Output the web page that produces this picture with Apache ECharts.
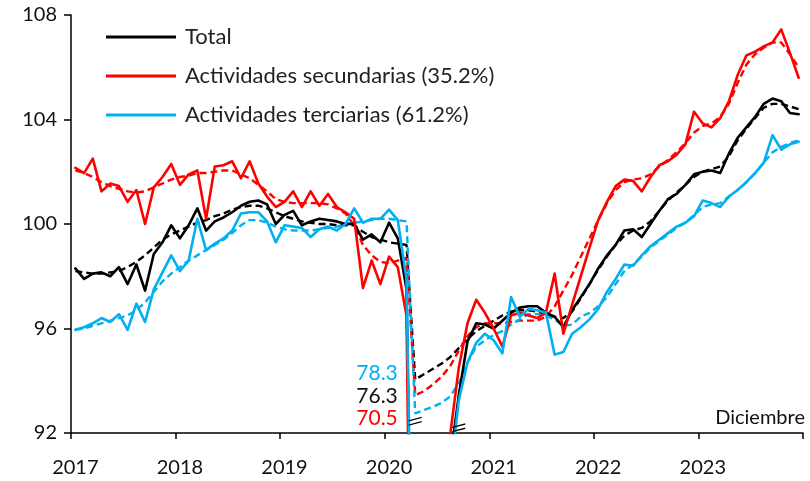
<!DOCTYPE html>
<html>
<head>
<meta charset="utf-8">
<script src="https://cdn.jsdelivr.net/npm/echarts@6/dist/echarts.min.js"></script>
<style>
html,body{margin:0;padding:0;background:#fff;}
#chart{width:810px;height:481px;}
</style>
</head>
<body>
<div id="chart"></div>
<script>
// ---- Data (monthly, Jan 2017 - Dec 2023) ----
const years = ['2017','2018','2019','2020','2021','2022','2023'];
const monthCodes = ['01','02','03','04','05','06','07','08','09','10','11','12'];

const totalSA = [
  98.3, 97.9, 98.1, 98.15, 98.0, 98.35, 97.7, 98.45, 97.45, 98.85, 99.3, 99.95,
  99.45, 99.95, 100.6, 99.75, 100.1, 100.25, 100.45, 100.7, 100.85, 100.9, 100.75, 100.0,
  100.35, 100.5, 99.95, 100.1, 100.2, 100.15, 100.1, 100.0, 100.0, 99.4, 99.6, 99.3,
  100.05, 99.45, 97.5, 76.3, 77.8, 84.5, 88.9, 90.9, 93.45, 95.5, 96.2, 96.15,
  96.0, 96.3, 96.6, 96.8, 96.85, 96.85, 96.6, 96.45, 96.05, 96.7, 97.2, 97.7,
  98.3, 98.8, 99.2, 99.75, 99.8, 99.5, 100.0, 100.5, 100.95, 101.15, 101.5, 101.9,
  102.0, 102.05, 101.95, 102.7, 103.3, 103.7, 104.1, 104.6, 104.8, 104.7, 104.25, 104.2
];
const secSA = [
  102.15, 101.95, 102.5, 101.25, 101.55, 101.45, 100.85, 101.3, 100.0, 101.4, 101.8, 102.3,
  101.5, 101.9, 102.05, 100.2, 102.2, 102.25, 102.4, 101.75, 102.4, 101.55, 101.05, 100.65,
  100.85, 101.25, 100.65, 101.25, 100.7, 101.15, 100.65, 100.45, 100.2, 97.55, 98.6, 97.7,
  98.75, 98.35, 96.5, 70.5, 72.5, 84.0, 89.5, 91.9, 94.5, 96.2, 97.1, 96.6,
  96.0, 95.3, 96.5, 96.6, 96.5, 96.4, 96.6, 98.1, 95.8, 96.9, 98.0, 99.1,
  100.15, 100.85, 101.45, 101.7, 101.65, 101.25, 101.8, 102.25, 102.4, 102.65, 103.05, 104.3,
  103.85, 103.7, 104.05, 104.7, 105.7, 106.45, 106.6, 106.8, 106.95, 107.45, 106.55, 105.6
];
const terSA = [
  95.95, 96.05, 96.2, 96.4, 96.25, 96.55, 95.95, 96.95, 96.25, 97.5, 98.15, 98.8,
  98.2, 98.6, 100.2, 99.0, 99.25, 99.45, 99.75, 100.4, 100.45, 100.45, 100.1, 99.3,
  99.95, 99.9, 99.85, 99.5, 99.8, 99.9, 99.75, 100.0, 100.6, 100.05, 100.2, 100.2,
  100.55, 100.15, 97.9, 78.3, 79.8, 84.8, 88.0, 90.3, 93.26, 94.7, 95.45, 95.8,
  95.55, 95.05, 97.2, 96.45, 96.75, 96.7, 96.6, 95.0, 95.1, 95.8, 96.05, 96.35,
  96.75, 97.4, 97.9, 98.45, 98.4, 98.8, 99.15, 99.4, 99.65, 99.9, 100.05, 100.3,
  100.9, 100.8, 100.65, 101.05, 101.3, 101.6, 101.95, 102.35, 103.4, 102.85, 103.05, 103.15
];
const totalTrend = [
  98.2, 98.15, 98.1, 98.1, 98.15, 98.2, 98.35, 98.55, 98.8, 99.1, 99.4, 99.6,
  99.75, 99.9, 100.05, 100.15, 100.3, 100.4, 100.55, 100.65, 100.7, 100.7, 100.6, 100.45,
  100.3, 100.2, 100.1, 100.05, 100.0, 100.0, 99.95, 99.95, 99.95, 99.7, 99.5, 99.4,
  99.3, 99.25, 99.2, 94.05, 94.25, 94.45, 94.65, 94.9, 95.25, 95.6, 95.9, 96.1,
  96.3, 96.5, 96.65, 96.7, 96.7, 96.65, 96.55, 96.45, 96.4, 96.65, 97.15, 97.7,
  98.25, 98.75, 99.2, 99.55, 99.75, 99.85, 100.1, 100.5, 100.9, 101.2, 101.5, 101.8,
  102.0, 102.1, 102.2, 102.6, 103.2, 103.65, 104.05, 104.45, 104.6, 104.6, 104.5, 104.4
];
const secTrend = [
  102.05, 101.95, 101.8, 101.6, 101.45, 101.35, 101.25, 101.2, 101.25, 101.4, 101.55, 101.7,
  101.8, 101.85, 101.95, 101.95, 102.0, 102.05, 102.05, 101.9, 101.75, 101.5, 101.25, 100.95,
  100.85, 100.8, 100.8, 100.8, 100.8, 100.75, 100.6, 100.4, 99.95, 99.2, 98.8, 98.55,
  98.5, 98.6, 98.7, 93.45, 93.6, 93.85, 94.15, 94.55, 95.15, 95.7, 96.05, 96.2,
  96.2, 96.2, 96.25, 96.3, 96.3, 96.3, 96.45, 96.85, 97.45, 98.05, 98.75, 99.45,
  100.15, 100.8, 101.3, 101.6, 101.7, 101.75, 101.9, 102.2, 102.45, 102.75, 103.1, 103.5,
  103.75, 103.85, 104.1, 104.6, 105.4, 106.1, 106.5, 106.75, 106.95, 106.95, 106.5, 106.0
];
const terTrend = [
  95.95, 96.0, 96.1, 96.2, 96.3, 96.4, 96.5, 96.7, 97.0, 97.4, 97.8, 98.1,
  98.35, 98.6, 98.8, 99.0, 99.2, 99.4, 99.65, 99.95, 100.15, 100.15, 100.05, 99.9,
  99.8, 99.75, 99.75, 99.75, 99.8, 99.85, 99.9, 100.0, 100.05, 100.1, 100.15, 100.2,
  100.2, 100.15, 100.1, 92.75, 92.88, 93.0, 93.15, 93.4, 93.9, 94.7, 95.3, 95.55,
  95.75, 95.9, 96.15, 96.35, 96.55, 96.55, 96.5, 96.35, 96.1, 96.15, 96.45, 96.6,
  96.85, 97.2, 97.7, 98.2, 98.45, 98.75, 99.1, 99.35, 99.6, 99.85, 100.05, 100.35,
  100.65, 100.75, 100.8, 101.05, 101.3, 101.6, 101.95, 102.35, 102.75, 102.95, 103.1, 103.2
];
const yTicks = [92, 96, 100, 104, 108];
const seriesNames = ['Total', 'Actividades secundarias (35.2%)', 'Actividades terciarias (61.2%)'];
const noteText = 'Diciembre';

// ---- Build ----
const categories = [];
years.forEach(y => monthCodes.forEach(m => categories.push(y + '-' + m)));
const aprilIdx = categories.indexOf('2020-04');
const reentryIdx = categories.indexOf('2020-09');

const BLACK = '#000000', RED = '#FF0000', BLUE = '#00B0F0';
const FONT = 'Lato';
const dashed = [7, 4];

function solid(name, data, color, extra) {
  return Object.assign({
    name: name, type: 'line', data: data, symbol: 'none', clip: true,
    lineStyle: { color: color, width: 2.6, cap: 'round', join: 'round' },
    itemStyle: { color: color }, emphasis: { disabled: true }, z: 3
  }, extra || {});
}
function trend(name, data, color) {
  return {
    name: name, type: 'line', data: data, symbol: 'none', clip: true,
    lineStyle: { color: color, width: 2.4, type: dashed },
    itemStyle: { color: color }, emphasis: { disabled: true }, z: 2
  };
}

const breakPath = 'path://M0,4 L14,0 L14,1.6 L0,5.6 Z M0,9 L14,5 L14,6.6 L0,10.6 Z';

const chart = echarts.init(document.getElementById('chart'), null, { renderer: 'canvas' });
chart.setOption({
  animation: false,
  backgroundColor: '#ffffff',
  textStyle: { fontFamily: FONT },
  grid: { left: 71, right: 7, top: 15, bottom: 48, containLabel: false },
  legend: {
    data: seriesNames,
    orient: 'vertical',
    left: 106, top: 26, padding: 0,
    itemWidth: 70, itemHeight: 3, itemGap: 17,
    icon: 'rect',
    selectedMode: false,
    textStyle: { fontFamily: FONT, fontSize: 22, color: '#222', lineHeight: 22, padding: [0, 0, 0, 4] }
  },
  xAxis: {
    type: 'category', data: categories, boundaryGap: true,
    axisLine: { lineStyle: { color: '#000', width: 1.5 } },
    axisTick: { show: true, interval: 11, length: 6, lineStyle: { color: '#000', width: 1.5 } },
    axisLabel: {
      interval: 11, margin: 25, fontFamily: FONT, fontSize: 20, color: '#111',
      formatter: v => v.endsWith('-01') ? v.slice(0, 4) : ''
    },
    splitLine: { show: false }
  },
  yAxis: {
    type: 'value', min: yTicks[0], max: yTicks[yTicks.length - 1], interval: 4,
    axisLine: { show: true, lineStyle: { color: '#000', width: 1.5 } },
    axisTick: { show: true, length: 7, lineStyle: { color: '#000', width: 1.5 } },
    axisLabel: { margin: 14, fontFamily: FONT, fontSize: 20, color: '#111' },
    splitLine: { show: false }
  },
  graphic: [{
    type: 'text', right: 5, top: 408,
    style: { text: noteText, font: '20px ' + FONT, fill: '#111' }
  }],
  series: [
    trend('Total (tendencia)', totalTrend, BLACK),
    trend('Secundarias (tendencia)', secTrend, RED),
    trend('Terciarias (tendencia)', terTrend, BLUE),
    solid(seriesNames[0], totalSA, BLACK, {
      markPoint: {
        silent: true,
        data: [
          { coord: [aprilIdx, 92.45], symbol: breakPath, symbolSize: [13, 9], itemStyle: { color: '#000' }, label: { show: false } },
          { coord: [reentryIdx, 92.2], symbol: breakPath, symbolSize: [13, 9], itemStyle: { color: '#000' }, label: { show: false } },
          { coord: [aprilIdx - 2, 94.28], symbol: 'circle', symbolSize: 0,
            label: { show: true, position: 'left', distance: 0, formatter: terSA[aprilIdx].toFixed(1), fontFamily: FONT, fontSize: 21, color: BLUE } },
          { coord: [aprilIdx - 2, 93.42], symbol: 'circle', symbolSize: 0,
            label: { show: true, position: 'left', distance: 0, formatter: totalSA[aprilIdx].toFixed(1), fontFamily: FONT, fontSize: 21, color: '#111' } },
          { coord: [aprilIdx - 2, 92.56], symbol: 'circle', symbolSize: 0,
            label: { show: true, position: 'left', distance: 0, formatter: secSA[aprilIdx].toFixed(1), fontFamily: FONT, fontSize: 21, color: RED } }
        ]
      }
    }),
    solid(seriesNames[1], secSA, RED),
    solid(seriesNames[2], terSA, BLUE)
  ]
});
</script>
</body>
</html>
